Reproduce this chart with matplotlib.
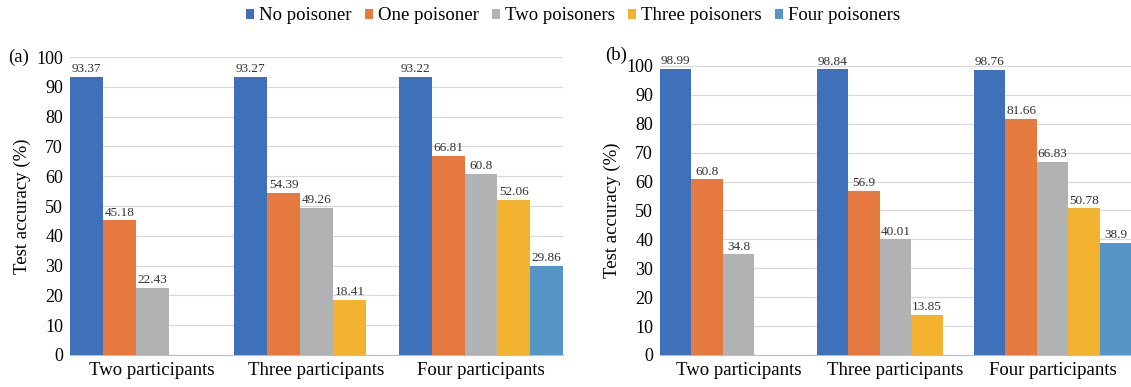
import matplotlib.pyplot as plt
import numpy as np

plt.rcParams['font.family'] = ['Liberation Serif', 'DejaVu Serif']

groups = ["Two participants", "Three participants", "Four participants"]
series = ["No poisoner", "One poisoner", "Two poisoners", "Three poisoners", "Four poisoners"]
colors = ['#3F71BA', '#E5793F', '#B1B2B4', '#F4B231', '#5595C8']

# None = that number of poisoners is not possible for the group
acc_a = [
    [93.37, 93.27, 93.22],
    [45.18, 54.39, 66.81],
    [22.43, 49.26, 60.8],
    [None, 18.41, 52.06],
    [None, None, 29.86],
]
acc_b = [
    [98.99, 98.84, 98.76],
    [60.8, 56.9, 81.66],
    [34.8, 40.01, 66.83],
    [None, 13.85, 50.78],
    [None, None, 38.9],
]

fig = plt.figure(figsize=(11.31, 3.87), dpi=100)
ax_a = fig.add_axes([0.0619, 0.0827, 0.436, 0.770])
ax_b = fig.add_axes([0.5836, 0.0827, 0.4165, 0.7468])

width = 0.2
x = np.arange(len(groups))


def draw(ax, data, tag, tag_xy):
    handles = []
    for i, vals in enumerate(data):
        pos = x - 0.5 + width * (i + 0.5)
        keep = [j for j, v in enumerate(vals) if v is not None]
        h = ax.bar(pos[keep], [vals[j] for j in keep], width, color=colors[i],
                   label=series[i], zorder=3)
        handles.append(h)
        for j in keep:
            ax.text(pos[j], vals[j] + 0.6, f"{vals[j]:g}", ha='center', va='bottom',
                    fontsize=9.5, color='#333333', zorder=4)
    ax.set_xlim(-0.5, 2.5)
    ax.set_ylim(0, 100)
    ax.set_yticks(np.arange(0, 101, 10))
    ax.set_xticks(x)
    ax.set_xticklabels(groups, fontsize=13.5)
    ax.tick_params(axis='y', labelsize=13, length=0, pad=5)
    ax.tick_params(axis='x', length=0, pad=5)
    ax.grid(axis='y', color='#D9D9D9', linewidth=0.9, zorder=0)
    for s in ['top', 'right', 'left']:
        ax.spines[s].set_visible(False)
    ax.spines['bottom'].set_color('#BFBFBF')
    ax.set_ylabel("Test accuracy (%)", fontsize=13.5, labelpad=4)
    fig.text(tag_xy[0], tag_xy[1], tag, fontsize=13.5, ha='left', va='center')
    return handles


handles = draw(ax_a, acc_a, "(a)", (8 / 1131, 1 - 57 / 387))
draw(ax_b, acc_b, "(b)", (605 / 1131, 1 - 55 / 387))

fig.legend(handles, series, loc='center', bbox_to_anchor=(0.507, 1 - 16 / 387), ncol=5,
           frameon=False, fontsize=13.5, handlelength=0.4, handleheight=0.4,
           handletextpad=0.3, columnspacing=0.7)

fig.savefig("out.png", dpi=100)
